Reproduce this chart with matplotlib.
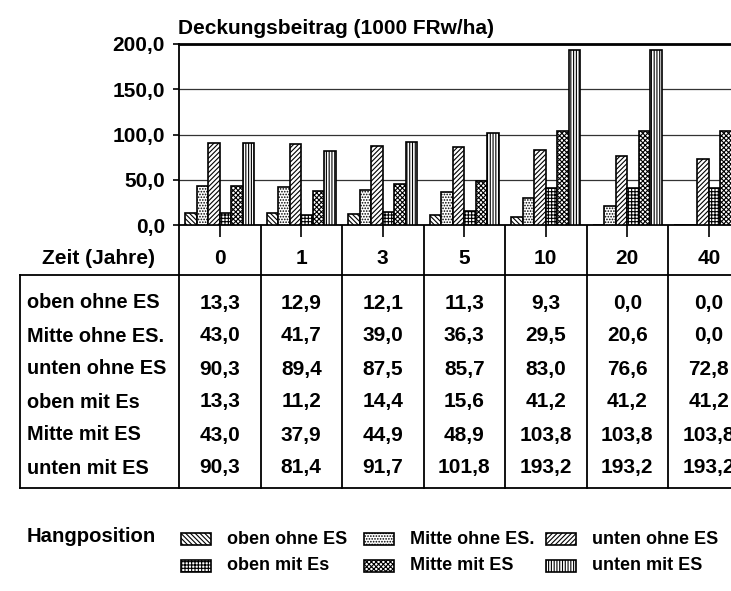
import numpy as np
import matplotlib
matplotlib.use("Agg")
import matplotlib.pyplot as plt
from matplotlib.patches import Rectangle

plt.rcParams['font.family'] = ['Liberation Sans', 'DejaVu Sans']
plt.rcParams['font.weight'] = 'bold'
plt.rcParams['hatch.linewidth'] = 0.8

# Daten
jahre = ['0', '1', '3', '5', '10', '20', '40']
serien = ['oben ohne ES', 'Mitte ohne ES.', 'unten ohne ES',
          'oben mit Es', 'Mitte mit ES', 'unten mit ES']
oben_ohne = [13.3, 12.9, 12.1, 11.3, 9.3, 0.0, 0.0]
mitte_ohne = [43.0, 41.7, 39.0, 36.3, 29.5, 20.6, 0.0]
unten_ohne = [90.3, 89.4, 87.5, 85.7, 83.0, 76.6, 72.8]
oben_mit = [13.3, 11.2, 14.4, 15.6, 41.2, 41.2, 41.2]
mitte_mit = [43.0, 37.9, 44.9, 48.9, 103.8, 103.8, 103.8]
unten_mit = [90.3, 81.4, 91.7, 101.8, 193.2, 193.2, 193.2]
y_ticks = [0, 50, 100, 150, 200]
y_labels = ['0,0', '50,0', '100,0', '150,0', '200,0']

werte = [oben_ohne, mitte_ohne, unten_ohne, oben_mit, mitte_mit, unten_mit]
muster = ['\\' * 7, '......', '/' * 7, '+++++', 'xxxxxxx', '||||||']

W, H = 731, 591
fig = plt.figure(figsize=(W / 100, H / 100), dpi=100)

# Hilfsachse in Pixelkoordinaten fuer Tabelle und Legende
ov = fig.add_axes([0, 0, 1, 1])
ov.set_xlim(0, W)
ov.set_ylim(H, 0)
ov.axis('off')

x0, gw = 179, 81.5
y_null, y_top = 225, 44
ax = fig.add_axes([x0 / W, (H - y_null) / H, 7 * gw / W, (y_null - y_top) / H])

bw = 0.1417
x = np.arange(len(jahre))
for j, (name, v) in enumerate(zip(serien, werte)):
    ax.bar(x + (j - 2.5) * bw, v, bw, facecolor='white', edgecolor='black',
           linewidth=1.2, hatch=muster[j], label=name, zorder=3)

ax.set_xlim(-0.5, len(jahre) - 0.5)
ax.set_ylim(0, 200)
ax.set_yticks(y_ticks)
ax.set_yticklabels(y_labels, fontsize=15)
ax.set_xticks(x)
ax.set_xticklabels(jahre, fontsize=15)
ax.tick_params(axis='x', direction='out', length=8.5, width=1.2, pad=9)
ax.tick_params(axis='y', direction='out', length=4, width=1.2, pad=6)
ax.yaxis.grid(True, color='#333333', linewidth=0.9)
ax.set_axisbelow(True)
for s in ['left', 'bottom']:
    ax.spines[s].set_linewidth(1.3)
ax.spines['top'].set_linewidth(2.0)
ax.spines['right'].set_visible(False)

fig.text(178 / W, 1 - 29 / H, 'Deckungsbeitrag (1000 FRw/ha)', fontsize=15,
         va='center', ha='left')

# Tabelle
ov.text(155, 258, 'Zeit (Jahre)', fontsize=15, ha='right', va='center')
t_top, t_bot = 275, 488
ov.plot([20, W], [t_top, t_top], color='black', lw=1.3)
ov.plot([20, W], [t_bot, t_bot], color='black', lw=1.3)
ov.plot([20, 20], [t_top, t_bot], color='black', lw=1.3)
for k in range(len(jahre) + 1):
    xk = x0 + k * gw
    ov.plot([xk, xk], [y_null, t_bot], color='black', lw=1.3)

zeilen_y = [303, 336, 369, 402, 435, 468]
for r, (name, v) in enumerate(zip(serien, werte)):
    ov.text(27, zeilen_y[r], name, fontsize=14.3, ha='left', va='center')
    for i, val in enumerate(v):
        ov.text(x0 + (i + 0.5) * gw, zeilen_y[r], f"{val:.1f}".replace('.', ','),
                fontsize=15, ha='center', va='center')

# Legende
ov.text(27, 537, 'Hangposition', fontsize=14.6, ha='left', va='center')
leg_x = [181, 364, 546]
leg_y = [539, 566]
for j, name in enumerate(serien):
    lx = leg_x[j % 3]
    ly = leg_y[j // 3]
    ov.add_patch(Rectangle((lx, ly - 6), 30, 12, facecolor='white',
                           edgecolor='black', lw=1.2, hatch=muster[j]))
    ov.text(lx + 46, ly, name, fontsize=13, ha='left', va='center')

plt.savefig('out.png', dpi=100)
